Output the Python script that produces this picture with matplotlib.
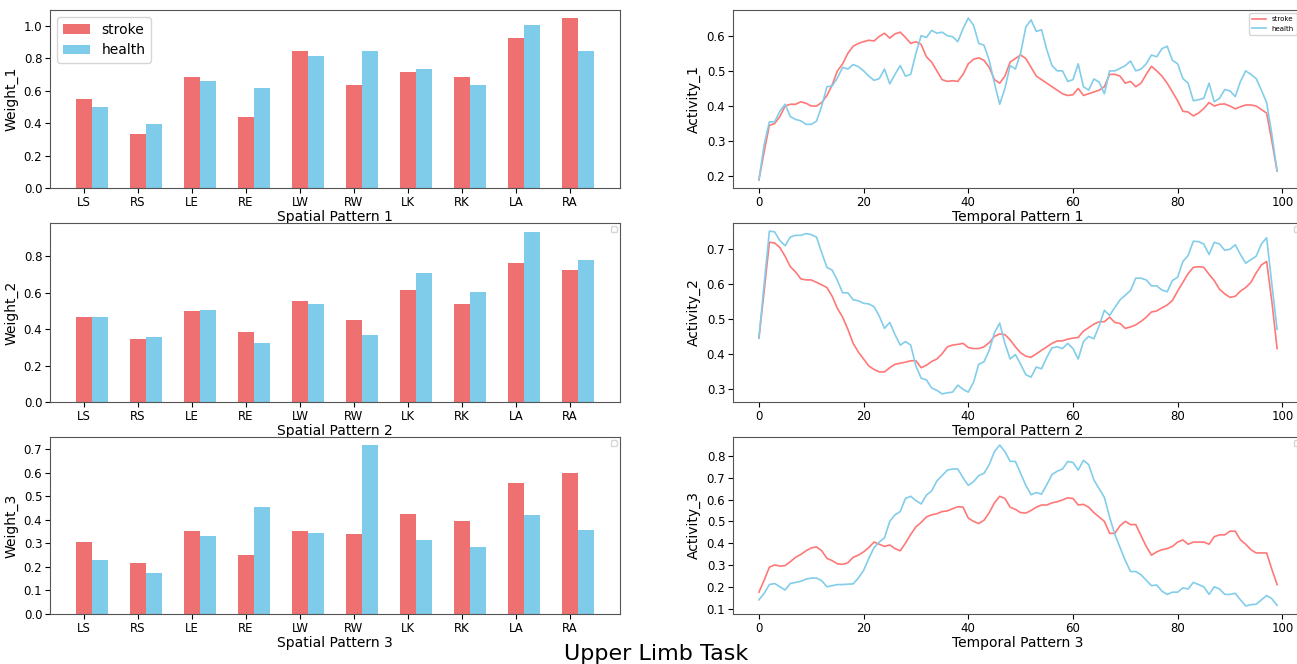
import numpy as np
import matplotlib
matplotlib.use('Agg')
import matplotlib.pyplot as plt
from matplotlib.ticker import MultipleLocator


# Spatial patterns (muscle weights)
#==================================

joints = ['LS', 'RS', 'LE', 'RE', 'LW', 'RW', 'LK', 'RK', 'LA', 'RA']

stroke_w1 = [0.55, 0.33, 0.685, 0.44, 0.845, 0.635, 0.715, 0.685, 0.925, 1.045]
health_w1 = [0.50, 0.395, 0.66, 0.615, 0.815, 0.845, 0.735, 0.635, 1.005, 0.845]

stroke_w2 = [0.465, 0.345, 0.50, 0.385, 0.555, 0.45, 0.615, 0.54, 0.765, 0.725]
health_w2 = [0.465, 0.355, 0.505, 0.325, 0.54, 0.37, 0.71, 0.605, 0.935, 0.78]

stroke_w3 = [0.305, 0.215, 0.35, 0.25, 0.35, 0.34, 0.425, 0.395, 0.555, 0.60]
health_w3 = [0.23, 0.175, 0.33, 0.455, 0.345, 0.715, 0.315, 0.285, 0.42, 0.355]


# Temporal patterns (activity over 100 samples)
#==============================================

stroke_a1 = [0.19, 0.27, 0.345, 0.35, 0.37, 0.40, 0.405, 0.405, 0.412, 0.408,
             0.40, 0.40, 0.41, 0.43, 0.46, 0.50, 0.52, 0.55, 0.57, 0.578,
             0.583, 0.587, 0.585, 0.598, 0.607, 0.593, 0.605, 0.61, 0.595, 0.578,
             0.583, 0.575, 0.54, 0.525, 0.50, 0.475, 0.47, 0.472, 0.47, 0.49,
             0.52, 0.533, 0.537, 0.53, 0.51, 0.475, 0.465, 0.485, 0.525, 0.535,
             0.545, 0.535, 0.51, 0.485, 0.475, 0.465, 0.455, 0.445, 0.435, 0.43,
             0.432, 0.45, 0.43, 0.435, 0.44, 0.445, 0.455, 0.49, 0.49, 0.485,
             0.465, 0.47, 0.455, 0.465, 0.49, 0.513, 0.50, 0.485, 0.465, 0.44,
             0.415, 0.385, 0.383, 0.372, 0.38, 0.393, 0.41, 0.40, 0.405, 0.406,
             0.40, 0.392, 0.398, 0.403, 0.403, 0.40, 0.39, 0.38, 0.30, 0.215]
health_a1 = [0.19, 0.29, 0.355, 0.355, 0.385, 0.405, 0.37, 0.362, 0.358, 0.348,
             0.348, 0.357, 0.40, 0.455, 0.457, 0.48, 0.51, 0.505, 0.518, 0.512,
             0.50, 0.485, 0.473, 0.478, 0.505, 0.463, 0.49, 0.515, 0.485, 0.49,
             0.55, 0.60, 0.595, 0.615, 0.607, 0.61, 0.60, 0.597, 0.583, 0.62,
             0.65, 0.63, 0.578, 0.573, 0.53, 0.465, 0.405, 0.45, 0.515, 0.505,
             0.55, 0.625, 0.645, 0.612, 0.617, 0.56, 0.515, 0.50, 0.50, 0.47,
             0.475, 0.52, 0.455, 0.445, 0.477, 0.468, 0.435, 0.50, 0.50, 0.507,
             0.515, 0.528, 0.50, 0.505, 0.52, 0.545, 0.54, 0.563, 0.57, 0.53,
             0.52, 0.478, 0.465, 0.415, 0.418, 0.422, 0.465, 0.412, 0.422, 0.447,
             0.443, 0.427, 0.47, 0.50, 0.49, 0.478, 0.445, 0.41, 0.32, 0.215]

stroke_a2 = [0.445, 0.58, 0.72, 0.718, 0.705, 0.68, 0.65, 0.635, 0.615, 0.612,
             0.612, 0.605, 0.598, 0.59, 0.565, 0.53, 0.505, 0.47, 0.43, 0.405,
             0.385, 0.365, 0.355, 0.348, 0.348, 0.36, 0.37, 0.373, 0.376, 0.38,
             0.38, 0.36, 0.367, 0.378, 0.385, 0.40, 0.42, 0.425, 0.427, 0.43,
             0.418, 0.415, 0.415, 0.42, 0.432, 0.45, 0.457, 0.455, 0.44, 0.42,
             0.403, 0.393, 0.39, 0.40, 0.41, 0.42, 0.43, 0.437, 0.437, 0.442,
             0.445, 0.447, 0.465, 0.475, 0.485, 0.492, 0.492, 0.505, 0.49, 0.487,
             0.473, 0.477, 0.483, 0.493, 0.505, 0.52, 0.523, 0.532, 0.54, 0.553,
             0.58, 0.605, 0.63, 0.648, 0.65, 0.648, 0.628, 0.61, 0.585, 0.572,
             0.562, 0.565, 0.58, 0.59, 0.605, 0.632, 0.655, 0.665, 0.55, 0.415]
health_a2 = [0.445, 0.60, 0.752, 0.75, 0.725, 0.71, 0.735, 0.74, 0.74, 0.745,
             0.742, 0.735, 0.69, 0.648, 0.64, 0.61, 0.575, 0.575, 0.555, 0.552,
             0.545, 0.543, 0.535, 0.508, 0.473, 0.49, 0.455, 0.425, 0.435, 0.425,
             0.365, 0.33, 0.325, 0.302, 0.295, 0.285, 0.288, 0.29, 0.31, 0.298,
             0.29, 0.318, 0.37, 0.377, 0.41, 0.46, 0.488, 0.43, 0.385, 0.398,
             0.37, 0.34, 0.333, 0.362, 0.357, 0.39, 0.417, 0.42, 0.415, 0.43,
             0.415, 0.385, 0.435, 0.45, 0.443, 0.48, 0.525, 0.51, 0.533, 0.555,
             0.568, 0.582, 0.617, 0.617, 0.612, 0.595, 0.595, 0.583, 0.578, 0.61,
             0.62, 0.665, 0.682, 0.723, 0.722, 0.715, 0.685, 0.72, 0.715, 0.697,
             0.70, 0.713, 0.685, 0.66, 0.67, 0.68, 0.715, 0.733, 0.60, 0.47]

stroke_a3 = [0.175, 0.23, 0.29, 0.30, 0.295, 0.297, 0.315, 0.335, 0.348, 0.365,
             0.378, 0.383, 0.365, 0.33, 0.32, 0.305, 0.303, 0.31, 0.335, 0.345,
             0.36, 0.38, 0.405, 0.395, 0.385, 0.392, 0.375, 0.365, 0.40, 0.44,
             0.475, 0.495, 0.52, 0.53, 0.535, 0.545, 0.548, 0.558, 0.567, 0.565,
             0.515, 0.50, 0.49, 0.505, 0.54, 0.585, 0.615, 0.605, 0.565, 0.555,
             0.54, 0.538, 0.55, 0.565, 0.575, 0.575, 0.585, 0.59, 0.598, 0.608,
             0.605, 0.575, 0.578, 0.565, 0.54, 0.52, 0.50, 0.445, 0.445, 0.48,
             0.50, 0.485, 0.485, 0.435, 0.385, 0.345, 0.36, 0.37, 0.375, 0.385,
             0.405, 0.415, 0.395, 0.405, 0.405, 0.405, 0.395, 0.43, 0.438, 0.438,
             0.455, 0.455, 0.415, 0.395, 0.37, 0.355, 0.355, 0.355, 0.28, 0.21]
health_a3 = [0.14, 0.17, 0.21, 0.215, 0.20, 0.185, 0.215, 0.22, 0.225, 0.235,
             0.24, 0.24, 0.228, 0.20, 0.205, 0.21, 0.21, 0.212, 0.213, 0.24,
             0.275, 0.33, 0.38, 0.405, 0.425, 0.50, 0.53, 0.545, 0.605, 0.615,
             0.595, 0.58, 0.62, 0.64, 0.685, 0.71, 0.735, 0.74, 0.74, 0.70,
             0.665, 0.682, 0.71, 0.72, 0.76, 0.82, 0.85, 0.82, 0.775, 0.775,
             0.72, 0.665, 0.622, 0.632, 0.625, 0.668, 0.715, 0.73, 0.74, 0.775,
             0.77, 0.735, 0.78, 0.76, 0.69, 0.65, 0.61, 0.52, 0.44, 0.38,
             0.32, 0.27, 0.27, 0.255, 0.23, 0.205, 0.208, 0.18, 0.165, 0.175,
             0.175, 0.195, 0.19, 0.22, 0.21, 0.20, 0.165, 0.20, 0.19, 0.165,
             0.165, 0.17, 0.14, 0.112, 0.118, 0.12, 0.14, 0.16, 0.145, 0.115]


spatial = [(stroke_w1, health_w1), (stroke_w2, health_w2), (stroke_w3, health_w3)]
temporal = [(stroke_a1, health_a1), (stroke_a2, health_a2), (stroke_a3, health_a3)]

bar_red = '#ee7070'
bar_blue = '#7ecbea'
line_red = '#ff7878'
line_blue = '#82cdea'

W, H = 1297, 664
fig = plt.figure(figsize=(W / 100, H / 100), dpi=100)

# axes boxes in pixels: (top, bottom) per row, (left, right) per column
row_px = [(10, 188), (223, 402), (437, 614)]
left_px = (50, 620)
right_px = (733, 1303)

# y tick steps per row
bar_steps = [0.2, 0.2, 0.1]
line_steps = [0.1, 0.1, 0.1]


def px_axes(x0, x1, y0, y1):
    return fig.add_axes([x0 / W, 1 - y1 / H, (x1 - x0) / W, (y1 - y0) / H])


x = np.arange(len(joints))
width = 0.3

for i, (s, h) in enumerate(spatial):
    ax = px_axes(left_px[0], left_px[1], row_px[i][0], row_px[i][1])
    ax.bar(x, s, width=width, color=bar_red, label='stroke')
    ax.bar(x + width, h, width=width, color=bar_blue, label='health')
    ax.set_xticks(x)
    ax.set_xticklabels(joints)
    ax.yaxis.set_major_locator(MultipleLocator(bar_steps[i]))
    ax.set_ylabel('Weight_%d' % (i + 1), fontsize=10)
    ax.set_xlabel('Spatial Pattern %d' % (i + 1), fontsize=10, labelpad=1)
    ax.tick_params(labelsize=8.5, pad=2)
    for sp in ax.spines.values():
        sp.set_color('#555555')
    if i == 0:
        ax.legend(loc='upper left', fontsize=10)
    else:
        ax.legend(handles=[], loc='upper right', fontsize=5)

for i, (s, h) in enumerate(temporal):
    ax = px_axes(right_px[0], right_px[1], row_px[i][0], row_px[i][1])
    t = np.arange(len(s))
    ax.plot(t, s, color=line_red, lw=1.2, label='stroke')
    ax.plot(t, h, color=line_blue, lw=1.2, label='health')
    ax.yaxis.set_major_locator(MultipleLocator(line_steps[i]))
    ax.set_ylabel('Activity_%d' % (i + 1), fontsize=10)
    ax.set_xlabel('Temporal Pattern %d' % (i + 1), fontsize=10, labelpad=1)
    ax.tick_params(labelsize=8.5, pad=2)
    for sp in ax.spines.values():
        sp.set_color('#555555')
    if i == 0:
        ax.legend(loc='upper right', fontsize=5, bbox_to_anchor=(0.995, 1.0))
    else:
        ax.legend(handles=[], loc='upper right', fontsize=5)

fig.text(0.506, 0.006, 'Upper Limb Task', ha='center', va='baseline', fontsize=16)

fig.savefig('out.png', dpi=100)
